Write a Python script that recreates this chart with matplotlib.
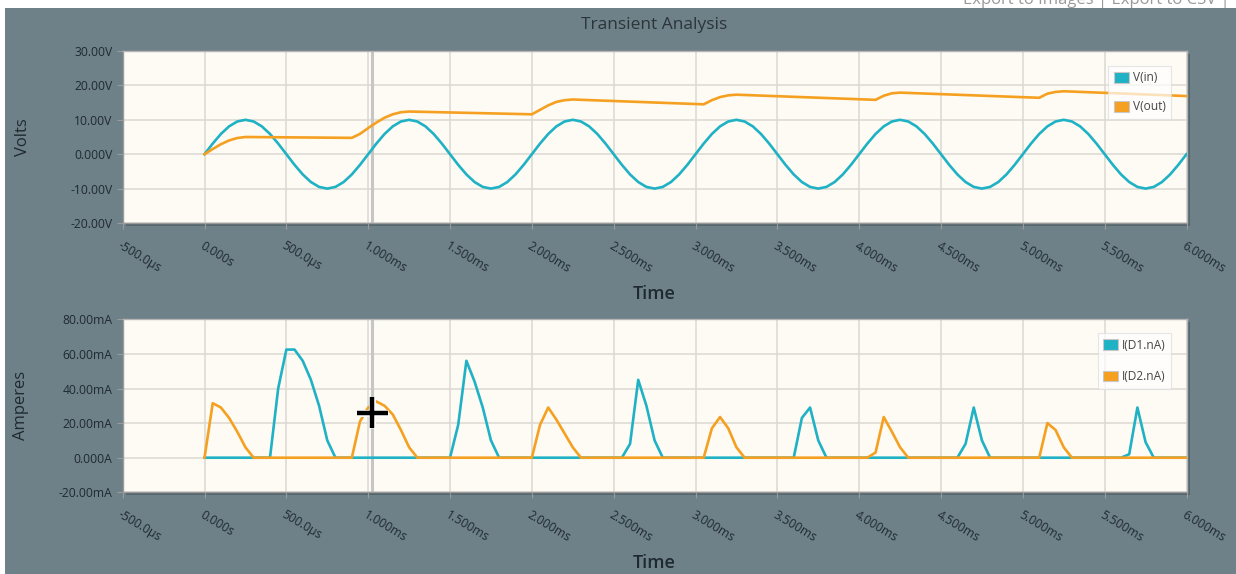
import numpy as np
import matplotlib
matplotlib.use("Agg")
import matplotlib.pyplot as plt
from matplotlib.patches import Patch, Rectangle
from matplotlib import patheffects as pe

plt.rcParams['font.family'] = ['Open Sans', 'DejaVu Sans']

# ---- data (time in ms) ----
dt_in = 0.05
v_in = [
    0.0, 3.09, 5.88, 8.09, 9.51, 10.0, 9.51, 8.09, 5.88, 3.09,
    0.0, -3.09, -5.88, -8.09, -9.51, -10.0, -9.51, -8.09, -5.88, -3.09,
    0.0, 3.09, 5.88, 8.09, 9.51, 10.0, 9.51, 8.09, 5.88, 3.09,
    0.0, -3.09, -5.88, -8.09, -9.51, -10.0, -9.51, -8.09, -5.88, -3.09,
    0.0, 3.09, 5.88, 8.09, 9.51, 10.0, 9.51, 8.09, 5.88, 3.09,
    0.0, -3.09, -5.88, -8.09, -9.51, -10.0, -9.51, -8.09, -5.88, -3.09,
    0.0, 3.09, 5.88, 8.09, 9.51, 10.0, 9.51, 8.09, 5.88, 3.09,
    0.0, -3.09, -5.88, -8.09, -9.51, -10.0, -9.51, -8.09, -5.88, -3.09,
    0.0, 3.09, 5.88, 8.09, 9.51, 10.0, 9.51, 8.09, 5.88, 3.09,
    0.0, -3.09, -5.88, -8.09, -9.51, -10.0, -9.51, -8.09, -5.88, -3.09,
    0.0, 3.09, 5.88, 8.09, 9.51, 10.0, 9.51, 8.09, 5.88, 3.09,
    0.0, -3.09, -5.88, -8.09, -9.51, -10.0, -9.51, -8.09, -5.88, -3.09,
    0.0,
]
t_in = np.arange(len(v_in)) * dt_in

t_out = [0, 0.05, 0.1, 0.15, 0.2, 0.25, 0.9, 0.95, 1.0, 1.05, 1.1, 1.15, 1.2, 1.25,
         2.0, 2.05, 2.1, 2.15, 2.2, 2.25, 3.05, 3.1, 3.15, 3.2, 3.25,
         4.1, 4.15, 4.2, 4.25, 5.1, 5.15, 5.2, 5.25, 6.0]
v_out = [0, 1.5, 2.9, 4.0, 4.7, 5.0, 4.75, 5.9, 7.6, 9.2, 10.6, 11.6, 12.2, 12.4,
         11.6, 12.9, 14.2, 15.2, 15.7, 15.9, 14.5, 15.7, 16.6, 17.1, 17.3,
         15.8, 17.0, 17.7, 17.9, 16.4, 17.6, 18.1, 18.3, 16.9]

t_d1 = [0, 0.4, 0.45, 0.5, 0.55, 0.6, 0.65, 0.7, 0.75, 0.8,
        1.5, 1.55, 1.6, 1.65, 1.7, 1.75, 1.8,
        2.55, 2.6, 2.65, 2.7, 2.75, 2.8,
        3.6, 3.65, 3.7, 3.75, 3.8,
        4.6, 4.65, 4.7, 4.75, 4.8,
        5.6, 5.65, 5.7, 5.75, 5.8, 6.0]
i_d1 = [0, 0, 40, 62.5, 62.5, 56, 45, 30, 10, 0,
        0, 19, 56, 44, 29, 10, 0,
        0, 8, 45, 30, 10, 0,
        0, 23, 29, 10, 0,
        0, 8, 29, 10, 0,
        0, 2, 29, 9, 0, 0]

t_d2 = [0, 0.05, 0.1, 0.15, 0.2, 0.25, 0.3,
        0.9, 0.95, 1.0, 1.05, 1.1, 1.15, 1.2, 1.25, 1.3,
        2.0, 2.05, 2.1, 2.15, 2.2, 2.25, 2.3,
        3.05, 3.1, 3.15, 3.2, 3.25, 3.3,
        4.05, 4.1, 4.15, 4.2, 4.25, 4.3,
        5.1, 5.15, 5.2, 5.25, 5.3, 6.0]
i_d2 = [0, 31.5, 29, 23, 15, 6, 0,
        0, 21, 29, 32.5, 30, 25, 16, 6, 0,
        0, 19, 29, 22, 14, 6, 0,
        0, 17, 23.5, 17, 6, 0,
        0, 3, 23.5, 15, 6, 0,
        0, 20, 16, 6, 0, 0]

x_ticks = [-0.5, 0, 0.5, 1.0, 1.5, 2.0, 2.5, 3.0, 3.5, 4.0, 4.5, 5.0, 5.5, 6.0]
x_labels = ['-500.0µs', '0.000s', '500.0µs', '1.000ms', '1.500ms', '2.000ms',
            '2.500ms', '3.000ms', '3.500ms', '4.000ms', '4.500ms', '5.000ms',
            '5.500ms', '6.000ms']
v_ticks = [-20, -10, 0, 10, 20, 30]
v_labels = ['-20.00V', '-10.00V', '0.000V', '10.00V', '20.00V', '30.00V']
i_ticks = [-20, 0, 20, 40, 60, 80]
i_labels = ['-20.00mA', '0.000A', '20.00mA', '40.00mA', '60.00mA', '80.00mA']

cursor_t = 1.025
cursor_i = 26

# ---- style ----
BG = '#6e8189'
PLOT_BG = '#fdfbf4'
TEAL = '#1fb1c4'
ORANGE = '#f5a020'
GRID = '#dcd9d3'
TXT = '#1f2a30'

W, H = 1236, 574
fig = plt.figure(figsize=(W / 100, H / 100), dpi=100, facecolor=BG)

# page margins around the panel
fig.patches.append(Rectangle((0, 0), 5 / W, 1, transform=fig.transFigure,
                             facecolor='white', edgecolor='none', zorder=-2))
fig.patches.append(Rectangle((0, 1 - 8 / H), 1, 8 / H, transform=fig.transFigure,
                             facecolor='white', edgecolor='none', zorder=-2))
fig.text(963 / W, 1 - 4 / H, 'Export to Images | Export to CSV |', fontsize=12,
         color='#9a9a9a', va='baseline', ha='left')


def make_axes(left, top, right, bottom):
    rect = [left / W, 1 - bottom / H, (right - left) / W, (bottom - top) / H]
    shadow = Rectangle(((left + 3) / W, 1 - (bottom + 3) / H), (right - left) / W,
                       (bottom - top) / H, transform=fig.transFigure,
                       facecolor='#56666d', edgecolor='none', zorder=-1)
    fig.patches.append(shadow)
    ax = fig.add_axes(rect)
    ax.set_facecolor(PLOT_BG)
    for s in ax.spines.values():
        s.set_color('#b4b4b4')
        s.set_linewidth(1.0)
    ax.spines['left'].set_color('#9a9a9a')
    ax.spines['bottom'].set_color('#9a9a9a')
    ax.grid(True, color=GRID, lw=1.1)
    ax.set_axisbelow(True)
    ax.set_xlim(-0.5, 6.0)
    ax.set_xticks(x_ticks)
    ax.set_xticklabels(x_labels, rotation=-31, ha='left', va='top',
                       rotation_mode='anchor')
    ax.tick_params(axis='x', length=4.5, color='#9a9a9a', pad=7,
                   labelsize=8.7, labelcolor=TXT)
    ax.tick_params(axis='y', length=4.5, color='#9a9a9a', pad=3,
                   labelsize=8.7, labelcolor=TXT)
    ax.axvline(cursor_t, color='#c6c6c6', lw=2.2, zorder=1.5)
    return ax


ax1 = make_axes(122.7, 51, 1186.5, 223)
ax1.set_ylim(-20, 30)
ax1.set_yticks(v_ticks)
ax1.set_yticklabels(v_labels)
ax1.plot(t_in, v_in, color=TEAL, lw=1.9, zorder=3)
ax1.plot(t_out, v_out, color=ORANGE, lw=1.9, zorder=3)
ax1.set_ylabel('Volts', fontsize=12, color=TXT, labelpad=28)
ax1.set_xlabel('Time', fontsize=13, color=TXT, labelpad=7, fontweight='semibold')
ax1.set_title('Transient Analysis', fontsize=12.5, color='#2b353a', pad=16)

ax2 = make_axes(122.7, 319.3, 1186.5, 492.3)
ax2.set_ylim(-20, 80)
ax2.set_yticks(i_ticks)
ax2.set_yticklabels(i_labels)
ax2.plot(t_d1, i_d1, color=TEAL, lw=1.9, zorder=3)
ax2.plot(t_d2, i_d2, color=ORANGE, lw=1.9, zorder=3)
ax2.set_ylabel('Amperes', fontsize=12, color=TXT, labelpad=21)
ax2.set_xlabel('Time', fontsize=13, color=TXT, labelpad=7, fontweight='semibold')

# mouse crosshair
ax2.plot([cursor_t], [cursor_i], marker='+', ms=22, mew=3.2, color='black',
         zorder=6, clip_on=False,
         path_effects=[pe.withStroke(linewidth=5, foreground='white')])


def add_legend(ax, labels, top_frac, spacing):
    handles = [Patch(facecolor=TEAL, edgecolor='#c8c8c8', lw=0.8),
               Patch(facecolor=ORANGE, edgecolor='#c8c8c8', lw=0.8)]
    leg = ax.legend(handles, labels, loc='upper right',
                    bbox_to_anchor=(0.9856, top_frac), frameon=True,
                    fancybox=False, edgecolor='#dedede', facecolor='white',
                    framealpha=0.7, fontsize=8.6, handlelength=1.3,
                    handleheight=1.0, labelspacing=spacing, borderpad=0.45,
                    handletextpad=0.3, borderaxespad=0)
    leg.get_frame().set_linewidth(0.8)
    for t in leg.get_texts():
        t.set_color('#454545')
    leg.set_zorder(5)


add_legend(ax1, ['V(in)', 'V(out)'], 0.913, 1.35)
add_legend(ax2, ['I(D1.nA)', 'I(D2.nA)'], 0.919, 1.55)

fig.savefig('out.png', dpi=100, facecolor=BG)
